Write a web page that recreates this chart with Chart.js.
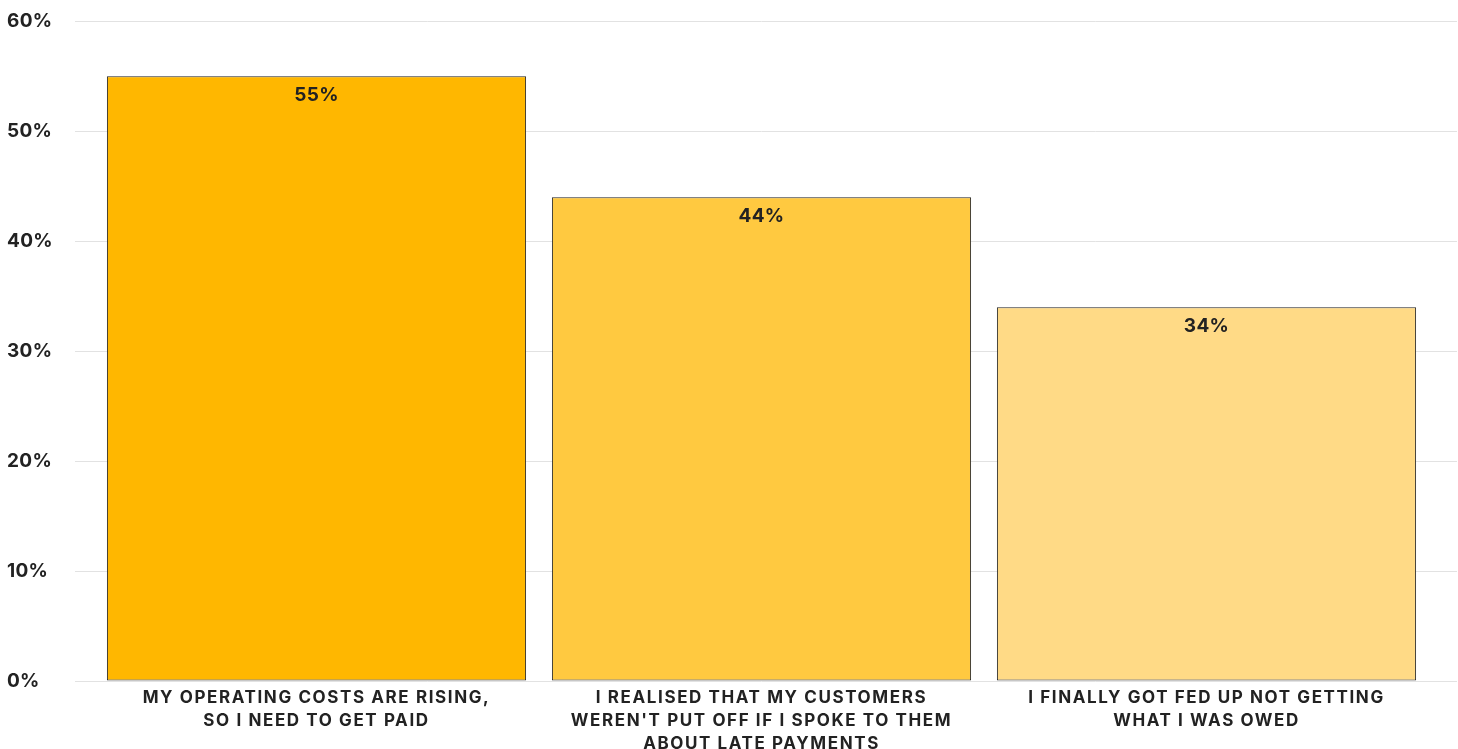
<!DOCTYPE html>
<html>
<head>
<meta charset="utf-8">
<script src="https://cdn.jsdelivr.net/npm/chart.js@4.4.1/dist/chart.umd.min.js"></script>
<style>
  html, body { margin: 0; padding: 0; background: #ffffff; }
  #wrap { width: 1458px; height: 749px; position: relative; }
</style>
</head>
<body>
<div id="wrap"><canvas id="chart"></canvas></div>
<script>
// Reasons given for chasing late payments (share of respondents, %)
const categories = [
  ["MY OPERATING COSTS ARE RISING,", "SO I NEED TO GET PAID"],
  ["I REALISED THAT MY CUSTOMERS", "WEREN'T PUT OFF IF I SPOKE TO THEM", "ABOUT LATE PAYMENTS"],
  ["I FINALLY GOT FED UP NOT GETTING", "WHAT I WAS OWED"]
];
const shares = [55, 44, 34];
const barColors = ["#FFB700", "#FFC940", "#FFDA86"];
const yTicks = [0, 10, 20, 30, 40, 50, 60];

const TEXT = "#222222";
const GRID = "#e2e2e2";
const FONT = "Inter, 'Noto Sans', sans-serif";

// Value labels written just inside the top of each bar
const valueLabels = {
  id: "valueLabels",
  afterDatasetsDraw(chart) {
    const ctx = chart.ctx;
    const meta = chart.getDatasetMeta(0);
    ctx.save();
    ctx.letterSpacing = "0.3px";
    ctx.font = "700 19px " + FONT;
    ctx.fillStyle = TEXT;
    ctx.textAlign = "center";
    ctx.textBaseline = "middle";
    meta.data.forEach((bar, i) => {
      const v = chart.data.datasets[0].data[i];
      ctx.fillText(v + "%", bar.x, bar.y + 19);
    });
    ctx.restore();
  }
};

// Letter spacing: light on the value axis, wider on the uppercase category labels
// (the category axis is drawn on a later layer, after the bars)
const tracking = {
  id: "tracking",
  beforeDraw(chart) { chart.ctx.letterSpacing = "0.3px"; },
  afterDatasetsDraw(chart) { chart.ctx.letterSpacing = "1.6px"; },
  afterDraw(chart) { chart.ctx.letterSpacing = "0px"; }
};

new Chart(document.getElementById("chart"), {
  type: "bar",
  data: {
    labels: categories,
    datasets: [{
      data: shares,
      backgroundColor: barColors,
      borderColor: "#222222",
      borderWidth: 1,
      borderSkipped: false,
      categoryPercentage: 1,
      barPercentage: 0.942
    }]
  },
  options: {
    responsive: true,
    maintainAspectRatio: false,
    animation: false,
    layout: { padding: { left: 7, right: 1, top: 20, bottom: 0 } },
    plugins: {
      legend: { display: false },
      tooltip: { enabled: false }
    },
    scales: {
      x: {
        grid: { display: false, drawTicks: false, z: 1 },
        border: { display: false },
        ticks: {
          z: 1,
          color: TEXT,
          padding: 6,
          maxRotation: 0,
          autoSkip: false,
          font: { family: FONT, size: 17, weight: "700", lineHeight: 1.33 }
        },
        afterFit(scale) { scale.height = 68; }
      },
      y: {
        min: 0,
        max: 60,
        afterBuildTicks(scale) { scale.ticks = yTicks.map(v => ({ value: v })); },
        grid: { color: GRID, lineWidth: 1, tickLength: 19, drawTicks: true },
        border: { display: false },
        ticks: {
          color: TEXT,
          crossAlign: "far",
          padding: 10,
          font: { family: FONT, size: 19, weight: "700" },
          callback: v => v + "%"
        },
        afterFit(scale) { scale.width = 87; }
      },
      yRight: {
        position: "right",
        min: 0,
        max: 60,
        afterBuildTicks(scale) { scale.ticks = yTicks.map(v => ({ value: v })); },
        grid: { color: GRID, lineWidth: 1, tickLength: 28, drawTicks: true, drawOnChartArea: false },
        border: { display: false },
        ticks: { display: false }
      }
    }
  },
  plugins: [valueLabels, tracking]
});
</script>
</body>
</html>
